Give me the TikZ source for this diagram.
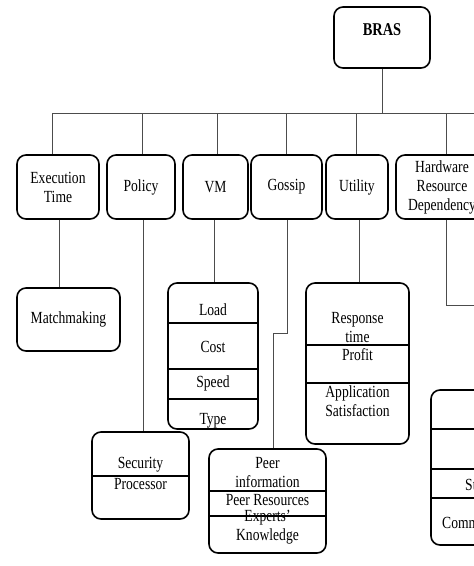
\documentclass[tikz,border=0pt]{standalone}
\usepackage{fontspec}
\setmainfont{Liberation Serif}[FakeStretch=0.8]
\begin{document}
\begin{tikzpicture}[x=1pt,y=-1pt,
  box/.style={draw, line width=1.6pt, rounded corners=9pt, inner sep=0pt},
  lbl/.style={font=\fontsize{17}{19}\selectfont, align=center, inner sep=0pt},
  conn/.style={line width=1pt, draw=black!70},
  divl/.style={line width=1.3pt}]
\useasboundingbox (0,0) rectangle (474,566);
\clip (0,0) rectangle (474,566);
% root
\node[box, minimum width=96pt, minimum height=61pt] (bras) at (382,37.5) {};
\node[lbl, font=\fontsize{18}{20}\selectfont\bfseries] (brast) at (382,30) {BRAS};
% second row
\node[box, lbl, minimum width=82pt, minimum height=64pt] (et) at (58,187) {Execution\\Time};
\node[box, lbl, minimum width=68pt, minimum height=64pt] (po) at (141,187) {Policy};
\node[box, lbl, minimum width=65pt, minimum height=64pt] (vm) at (215.5,187) {VM};
\node[box, lbl, minimum width=71pt, minimum height=64pt] (go) at (286.5,187) {Gossip};
\node[box, lbl, minimum width=62pt, minimum height=64pt] (ut) at (357,187) {Utility};
\node[box, lbl, minimum width=92pt, minimum height=64pt] (hw) at (442,187) {Hardware\\Resource\\Dependency};
% third row
\node[box, lbl, minimum width=103pt, minimum height=63pt] (mm) at (68.5,319.5) {Matchmaking};
% VM stack
\node[box, minimum width=90pt, minimum height=146pt] (vms) at (213,356) {};
\draw[divl] (vms.west |- 0,323) -- (vms.east |- 0,323);
\draw[divl] (vms.west |- 0,369) -- (vms.east |- 0,369);
\draw[divl] (vms.west |- 0,399) -- (vms.east |- 0,399);
\node[lbl] (vload) at (213,310) {Load};
\node[lbl] (vcost) at (213,347) {Cost};
\node[lbl] (vspeed) at (213,383) {Speed};
\node[lbl] (vtype) at (213,421) {Type};
% Utility stack
\node[box, minimum width=103pt, minimum height=161pt] (uts) at (357.5,363.5) {};
\draw[divl] (uts.west |- 0,345) -- (uts.east |- 0,345);
\draw[divl] (uts.west |- 0,383) -- (uts.east |- 0,383);
\node[lbl] (ursp) at (357.5,327.5) {Response\\time};
\node[lbl] (uprof) at (357.5,355) {Profit};
\node[lbl] (uapp) at (357.5,401) {Application\\Satisfaction};
% Security
\node[box, minimum width=97pt, minimum height=87pt] (sec) at (140.5,475.5) {};
\draw[divl] (sec.west |- 0,476) -- (sec.east |- 0,476);
\node[lbl] (ssec) at (140.5,465) {Security};
\node[lbl] (sproc) at (140.5,484) {Processor};
% Peer
\node[box, minimum width=117pt, minimum height=104pt] (peer) at (267.5,501) {};
\draw[divl] (peer.west |- 0,491) -- (peer.east |- 0,491);
\draw[divl] (peer.west |- 0,516) -- (peer.east |- 0,516);
\node[lbl] (pinfo) at (267.5,472.5) {Peer\\information};
\node[lbl] (pres) at (267.5,500) {Peer Resources};
\node[lbl] (pexp) at (267.5,527.5) {Experts'\\Knowledge};
% Hardware stack (cut by the picture's edge)
\node[box, minimum width=110pt, minimum height=155pt] (hws) at (486,467.5) {};
\draw[divl] (hws.west |- 0,429) -- (hws.east |- 0,429);
\draw[divl] (hws.west |- 0,469) -- (hws.east |- 0,469);
\draw[divl] (hws.west |- 0,498) -- (hws.east |- 0,498);
\node[lbl] (hsto) at (486,487) {Storage};
\node[lbl] (hcom) at (486,523) {Communication};
% connectors
\coordinate (busL) at (52,113);
\coordinate (busR) at (480,113);
\draw[conn] (bras.south) -- (bras.south |- busL);
\draw[conn] (busL) -- (busR);
\draw[conn] ([xshift=-6pt]et.north |- busL) -- ([xshift=-6pt]et.north);
\draw[conn] ([xshift=1pt]po.north |- busL) -- ([xshift=1pt]po.north);
\draw[conn] ([xshift=1.5pt]vm.north |- busL) -- ([xshift=1.5pt]vm.north);
\draw[conn] (go.north |- busL) -- (go.north);
\draw[conn] ([xshift=-1pt]ut.north |- busL) -- ([xshift=-1pt]ut.north);
\draw[conn] ([xshift=4pt]hw.north |- busL) -- ([xshift=4pt]hw.north);
\draw[conn] ([xshift=1pt]et.south) -- ([xshift=1pt]et.south |- mm.north);
\draw[conn] ([xshift=2pt]po.south) -- ([xshift=2pt]po.south |- sec.north);
\draw[conn] ([xshift=-1.5pt]vm.south) -- ([xshift=-1.5pt]vm.south |- vms.north);
\coordinate (gj) at (273,333);
\draw[conn] ([xshift=0.5pt]go.south) |- (gj) -- (gj |- peer.north);
\draw[conn] ([xshift=2pt]ut.south) -- ([xshift=2pt]ut.south |- uts.north);
\coordinate (hwend) at (480,305);
\draw[conn] ([xshift=4pt]hw.south) |- (hwend);
\end{tikzpicture}
\end{document}
